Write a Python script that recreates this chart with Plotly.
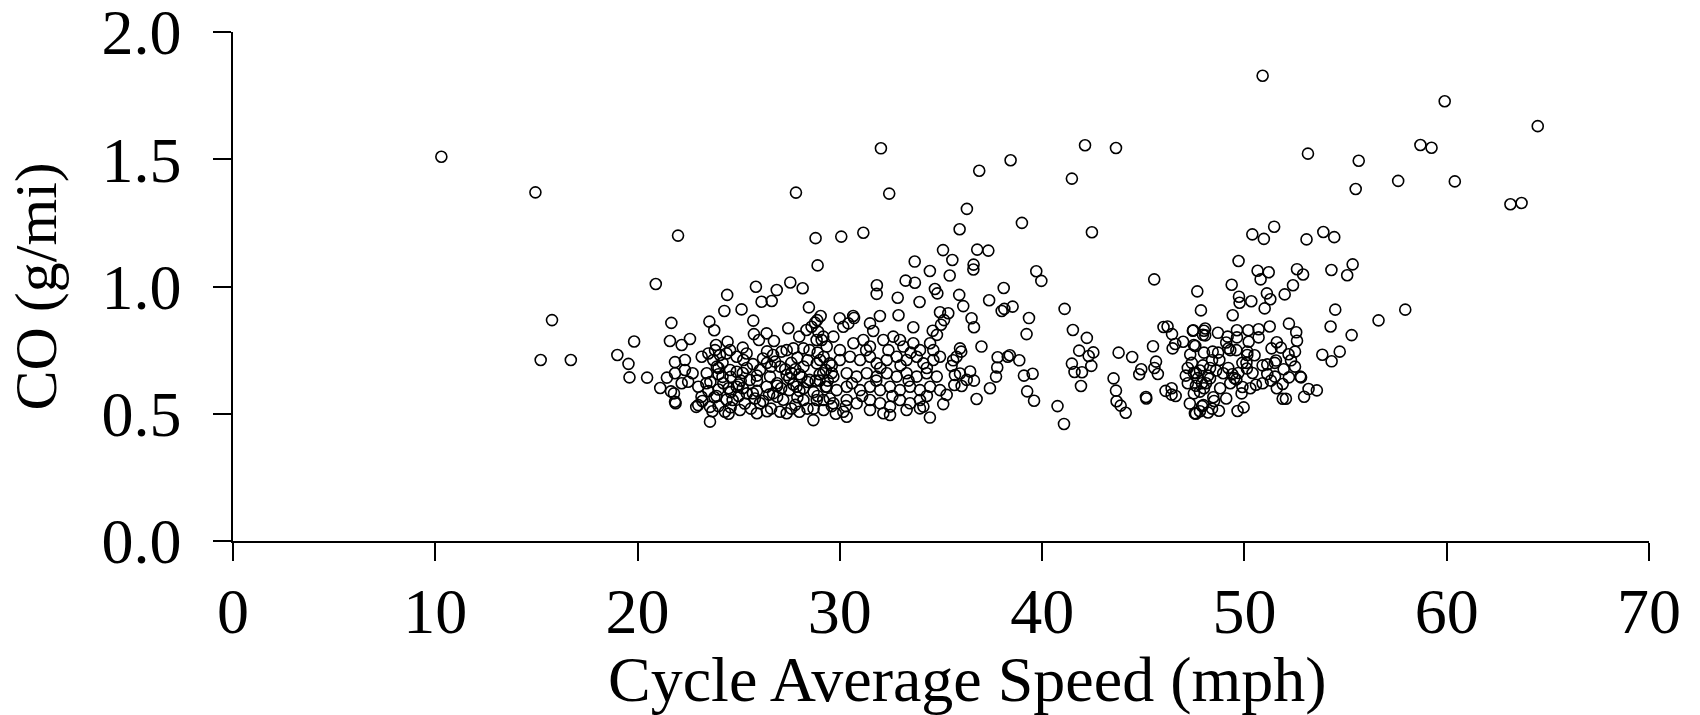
import plotly.graph_objects as go

# ---- data (speed in mph, CO in g/mi) ----
left_speed = [10.3, 14.95, 22.0, 20.9, 15.77, 21.67, 19.83, 21.6, 15.21, 16.7, 19.0, 19.55, 19.6, 20.47,
              21.85, 21.45, 21.12, 21.65, 21.85, 21.85]
left_co = [1.51, 1.37, 1.20, 1.01, 0.868, 0.857, 0.784, 0.786, 0.711, 0.711, 0.731, 0.696, 0.643, 0.642,
           0.703, 0.642, 0.601, 0.588, 0.547, 0.659]

a_speed = [25.85, 24.43, 26.88, 27.55, 28.16, 26.13, 26.63, 24.29, 25.14, 28.47, 25.72, 29.05, 28.77, 28.88,
           27.45, 23.55, 23.79, 22.59, 22.18, 27.99, 25.75, 26.38, 26.74, 26.0, 24.45, 23.88, 28.35, 28.6,
           28.93, 29.1, 28.9,
           22.34, 22.34, 22.72, 22.18, 22.5, 23.0, 23.16, 23.0, 23.58, 23.58, 23.5, 24.32, 23.74, 23.17,
           23.5, 23.83, 24.07, 24.4, 24.57, 24.9, 25.39, 25.23, 26.2, 27.12, 27.37, 27.7, 28.2, 28.5, 28.85,
           26.7, 26.05, 24.57, 23.92, 23.42, 24.24, 24.9, 25.55, 25.4, 24.7, 25.06, 25.9, 26.05, 26.38, 26.55,
           27.05, 27.37, 27.5, 26.9, 27.04, 27.37, 28.0, 28.69, 28.2, 28.86, 29.2, 27.86, 28.5, 28.2, 28.86,
           29.3, 29.3, 29.2, 22.9, 21.88, 21.8]
a_co = [0.999, 0.967, 0.986, 1.016, 0.993, 0.940, 0.943, 0.904, 0.910, 0.918, 0.866, 0.884, 0.858, 0.868,
        0.836, 0.862, 0.828, 0.794, 0.770, 0.803, 0.813, 0.816, 0.786, 0.79, 0.783, 0.770, 0.829, 0.842,
        0.822, 0.79, 1.083,
        0.711, 0.672, 0.659, 0.62, 0.626, 0.606, 0.567, 0.534, 0.469, 0.527, 0.589, 0.508, 0.711, 0.724,
        0.737, 0.750, 0.731, 0.737, 0.75, 0.724, 0.737, 0.711, 0.717, 0.744, 0.75, 0.757, 0.757, 0.75, 0.79,
        0.731, 0.672, 0.672, 0.685, 0.659, 0.62, 0.606, 0.633, 0.58, 0.554, 0.515, 0.502, 0.541, 0.606, 0.646,
        0.685, 0.652, 0.593, 0.567, 0.508, 0.502, 0.508, 0.475, 0.554, 0.554, 0.515, 0.606, 0.633, 0.685, 0.698,
        0.672, 0.606, 0.724, 0.527, 0.541, 0.58]

core_speed = [24.0, 24.6, 25.3, 26.6, 27.8, 28.4, 29.6,
              23.8, 24.4, 25.0, 25.8, 26.5, 27.2, 27.9, 29.5,
              24.0, 24.6, 25.2, 25.9, 26.7, 27.1, 28.0, 28.7,
              23.6, 25.0, 25.9, 26.9, 27.7, 28.4, 29.0,
              24.0, 24.6, 25.2, 25.9, 27.6, 28.1, 29.0,
              25.4, 26.6, 27.8, 29.6,
              24.2, 26.8, 27.6, 28.4,
              23.2, 23.9, 24.5, 25.1, 25.7, 26.2, 26.9, 27.5, 28.2, 28.9, 29.4,
              23.7, 24.5, 25.6, 26.4, 27.6, 28.7, 29.8,
              24.2, 24.9, 25.7, 26.4, 27.3, 28.0, 28.8, 29.6,
              23.4, 24.0, 25.2, 26.4, 27.9, 28.9]
core_co = [0.53, 0.525, 0.54, 0.52, 0.535, 0.52, 0.53,
           0.565, 0.555, 0.57, 0.56, 0.575, 0.555, 0.565, 0.56,
           0.595, 0.585, 0.60, 0.59, 0.58, 0.60, 0.59, 0.585,
           0.625, 0.615, 0.63, 0.62, 0.615, 0.625, 0.63,
           0.655, 0.645, 0.66, 0.65, 0.66, 0.645, 0.655,
           0.68, 0.685, 0.675, 0.69,
           0.70, 0.705, 0.70, 0.71,
           0.55, 0.57, 0.60, 0.63, 0.58, 0.55, 0.61, 0.64, 0.60, 0.57, 0.63,
           0.51, 0.50, 0.52, 0.51, 0.52, 0.52, 0.50,
           0.645, 0.665, 0.695, 0.70, 0.675, 0.655, 0.63, 0.66,
           0.62, 0.68, 0.76, 0.745, 0.72, 0.74]

b_speed = [32.03, 27.83, 32.44, 36.89, 38.44, 36.28, 39.0, 35.92, 28.8, 30.07, 31.16, 35.1, 36.79, 37.34,
           33.7, 35.56, 36.61, 36.6, 34.45, 35.43, 33.25, 33.71, 31.83, 31.82, 34.7, 34.82, 38.1, 35.9, 37.38,
           38.0, 38.13, 38.54, 32.86, 33.94, 36.1, 32.9, 31.98, 30.66, 30.7, 34.95, 35.36, 35.15, 36.51, 36.63,
           31.49, 31.65, 29.99, 30.42, 33.63, 34.59, 35.0, 34.8, 37.0, 35.94, 36.0, 35.77, 35.6, 35.52, 35.69,
           35.94, 36.27, 36.44, 36.63, 36.02, 35.66, 35.28, 35.11, 36.76, 37.42, 37.8, 38.3, 37.78, 37.72, 34.45]
b_co = [1.543, 1.369, 1.365, 1.455, 1.496, 1.305, 1.25, 1.225, 1.19, 1.196, 1.211, 1.143, 1.145, 1.141,
        1.098, 1.104, 1.086, 1.067, 1.061, 1.043, 1.023, 1.015, 1.005, 0.971, 0.99, 0.973, 0.994, 0.967, 0.946,
        0.904, 0.912, 0.921, 0.956, 0.939, 0.923, 0.887, 0.884, 0.884, 0.876, 0.899, 0.895, 0.868, 0.875, 0.840,
        0.855, 0.825, 0.875, 0.855, 0.840, 0.826, 0.85, 0.81, 0.764, 0.757, 0.744, 0.724, 0.71, 0.688, 0.652,
        0.658, 0.633, 0.666, 0.63, 0.609, 0.613, 0.574, 0.538, 0.558, 0.60, 0.722, 0.724, 0.682, 0.646, 0.485]

mid_speed = [29.18, 29.68, 30.17, 29.35, 30.0, 30.67, 31.16, 31.49, 32.15, 32.64, 32.97, 33.14, 33.63, 33.96,
             34.46, 34.62, 34.95,
             29.02, 29.5, 30.0, 30.5, 31.0, 31.49, 31.82, 32.32, 32.81, 33.3, 33.8, 34.13, 34.62,
             29.18, 29.68, 30.34, 30.83, 31.33, 31.82, 32.32, 32.81, 33.3, 33.8, 34.29, 34.79,
             29.35, 29.84, 30.34, 31.0, 31.49, 31.99, 32.48, 32.97, 33.47, 33.96, 34.46, 34.95,
             29.18, 29.68, 30.34, 30.83, 31.49, 31.99, 32.48, 32.97, 33.47, 33.96, 34.13,
             30.17, 30.34, 31.49, 32.15, 32.48, 33.3, 33.96,
             30.3, 31.1, 31.8, 32.6, 33.4, 34.3, 30.6, 32.0, 33.0, 34.3, 31.3, 32.4, 33.5]
mid_co = [0.803, 0.803, 0.842, 0.764, 0.75, 0.777, 0.79, 0.764, 0.79, 0.803, 0.79, 0.764, 0.777, 0.75,
          0.777, 0.75, 0.724,
          0.711, 0.698, 0.711, 0.724, 0.711, 0.724, 0.698, 0.711, 0.724, 0.711, 0.724, 0.698, 0.711,
          0.659, 0.646, 0.659, 0.646, 0.659, 0.646, 0.659, 0.646, 0.659, 0.646, 0.659, 0.646,
          0.606, 0.593, 0.606, 0.593, 0.606, 0.593, 0.606, 0.593, 0.606, 0.593, 0.606, 0.593,
          0.554, 0.541, 0.554, 0.541, 0.554, 0.541, 0.528, 0.554, 0.541, 0.554, 0.528,
          0.508, 0.488, 0.515, 0.502, 0.495, 0.515, 0.521,
          0.53, 0.57, 0.63, 0.57, 0.63, 0.57, 0.62, 0.68, 0.69, 0.68, 0.75, 0.75, 0.74]

c_speed = [39.71, 39.96, 39.35, 39.23, 41.11, 45.54, 47.67, 47.85, 41.52, 42.21, 41.83, 42.53, 42.3, 42.43,
           41.47, 41.6, 41.97, 41.92, 40.76, 41.08, 38.87, 38.4, 39.1, 39.53, 39.26, 39.6, 43.78, 44.45, 43.53,
           43.65, 43.68, 43.88, 44.13, 44.9, 44.8, 45.48, 45.63, 45.55, 45.72, 45.13, 46.1, 46.4, 46.6, 46.4,
           46.0, 46.2, 46.42, 46.58, 46.97, 46.45, 47.45, 48.0, 47.95, 47.57, 47.32, 48.0,
           47.2, 47.4, 47.6, 47.8, 47.95, 47.7, 47.9, 47.6, 48.2, 48.3, 48.4,
           47.3, 47.8, 48.2, 47.9, 48.5, 47.2, 45.15,
           42.12, 43.65, 41.47, 42.46]
c_co = [1.060, 1.022, 0.876, 0.813, 0.912, 1.028, 0.981, 0.906, 0.829, 0.798, 0.748, 0.741, 0.727, 0.688,
        0.697, 0.664, 0.663, 0.609, 0.530, 0.460, 0.71, 0.73, 0.650, 0.657, 0.588, 0.551, 0.740, 0.723, 0.639,
        0.591, 0.549, 0.532, 0.504, 0.675, 0.655, 0.765, 0.705, 0.68, 0.656, 0.566, 0.59, 0.575, 0.57, 0.6,
        0.841, 0.843, 0.813, 0.774, 0.783, 0.757, 0.826, 0.826, 0.81, 0.766, 0.733, 0.74,
        0.68, 0.70, 0.66, 0.67, 0.69, 0.64, 0.62, 0.61, 0.65, 0.68, 0.71,
        0.54, 0.51, 0.505, 0.53, 0.55, 0.62, 0.56,
        1.555, 1.544, 1.424, 1.213]

d_speed = [50.9, 53.14, 55.65, 55.5, 57.6, 58.7, 59.25, 50.39, 50.96, 51.47, 53.07, 53.9, 54.44,
           59.9, 60.4, 63.15, 63.7, 64.5,
           49.71, 50.65, 51.2, 50.8, 52.6, 52.9, 54.3, 55.35, 55.08, 49.37, 52.4, 51.99, 51.11, 51.28,
           49.73, 49.76, 50.34, 51.0, 49.42, 54.49, 56.63, 57.95, 54.26, 55.3, 52.2, 52.56, 52.6, 51.25,
           50.7, 50.19, 49.63, 49.63, 49.17, 48.69, 48.06, 48.06, 47.47, 50.21, 50.7, 53.85, 54.71, 54.31,
           51.6, 51.34, 50.14, 50.14, 52.18, 52.5, 52.5, 51.56, 51.13, 51.94, 51.51, 51.13, 51.31, 51.89,
           52.2, 52.76, 52.8, 53.17, 53.58, 52.95, 51.89, 52.05, 50.57, 50.29, 50.12, 50.1, 48.74, 49.66,
           49.96, 47.55, 47.6, 48.46, 49.86, 49.9, 49.3, 49.5, 49.7, 49.4, 49.6, 48.95, 48.6, 48.3, 48.1,
           47.8, 47.97, 47.5, 48.43, 49.2, 49.1, 49.3, 47.5, 48.76,
           47.1, 47.5, 48.0, 48.8, 49.2, 49.9, 50.4, 50.9, 51.5, 52.3, 48.7, 49.6, 50.5, 51.8, 50.9, 51.6,
           49.1, 48.4]
d_co = [1.828, 1.522, 1.494, 1.383, 1.415, 1.556, 1.545, 1.205, 1.187, 1.235, 1.185, 1.214, 1.194,
        1.728, 1.413, 1.323, 1.328, 1.63,
        1.100, 1.062, 1.056, 1.028, 1.068, 1.047, 1.065, 1.087, 1.044, 1.007, 1.005, 0.969, 0.973, 0.950,
        0.960, 0.936, 0.942, 0.914, 0.887, 0.909, 0.867, 0.909, 0.843, 0.809, 0.854, 0.820, 0.787, 0.843,
        0.832, 0.828, 0.828, 0.80, 0.803, 0.818, 0.835, 0.808, 0.828, 0.783, 0.80, 0.732, 0.744, 0.706,
        0.781, 0.757, 0.744, 0.731, 0.734, 0.744, 0.685, 0.709, 0.694, 0.675, 0.646, 0.656, 0.630, 0.617,
        0.643, 0.646, 0.643, 0.597, 0.592, 0.567, 0.559, 0.559, 0.614, 0.600, 0.678, 0.70, 0.512, 0.511,
        0.525, 0.502, 0.50, 0.565, 0.580, 0.605, 0.62, 0.64, 0.66, 0.655, 0.635, 0.659, 0.67, 0.639, 0.62,
        0.587, 0.534, 0.66, 0.744, 0.757, 0.78, 0.75, 0.77, 0.711,
        0.65, 0.58, 0.60, 0.60, 0.68, 0.70, 0.66, 0.69, 0.70, 0.71, 0.74, 0.75, 0.73, 0.76, 0.62, 0.60,
        0.56, 0.52]

speed = left_speed + a_speed + core_speed + b_speed + mid_speed + c_speed + d_speed
co = left_co + a_co + core_co + b_co + mid_co + c_co + d_co

x_ticks = [0, 10, 20, 30, 40, 50, 60, 70]
y_ticks = [0.0, 0.5, 1.0, 1.5, 2.0]
y_tick_text = ["0.0", "0.5", "1.0", "1.5", "2.0"]

FONT = "Liberation Serif, Times New Roman, serif"

fig = go.Figure()
fig.add_trace(go.Scatter(
    x=speed, y=co, mode="markers",
    marker=dict(symbol="circle-open", size=11, color="black", line=dict(width=1.6, color="black")),
    hoverinfo="x+y",
))

axis_common = dict(
    showline=True, linecolor="black", linewidth=1.5,
    ticks="outside", ticklen=18, tickwidth=1.5, tickcolor="black",
    showgrid=False, zeroline=False, ticklabeloverflow="allow", automargin=False,
    tickfont=dict(family=FONT, size=64, color="black"),
)

fig.update_layout(
    width=1700, height=715,
    margin=dict(l=233, r=51, t=32, b=174, autoexpand=False),
    plot_bgcolor="white", paper_bgcolor="white",
    showlegend=False,
    font=dict(family=FONT, size=62, color="black"),
    xaxis=dict(range=[0, 70], tickvals=x_ticks, ticklabelstandoff=-5, **axis_common),
    yaxis=dict(range=[0, 2], tickvals=y_ticks, ticktext=y_tick_text, ticklabelstandoff=19, **axis_common),
    annotations=[
        dict(text="Cycle Average Speed (mph)", xref="paper", yref="paper",
             x=0.5187, y=-0.272, xanchor="center", yanchor="middle", showarrow=False,
             font=dict(family=FONT, size=64, color="black")),
        dict(text="CO (g/mi)", xref="paper", yref="paper",
             x=-0.1398, y=0.5, xanchor="center", yanchor="middle", textangle=-90, showarrow=False,
             font=dict(family=FONT, size=60, color="black")),
    ],
)

fig.write_html("out.html")
